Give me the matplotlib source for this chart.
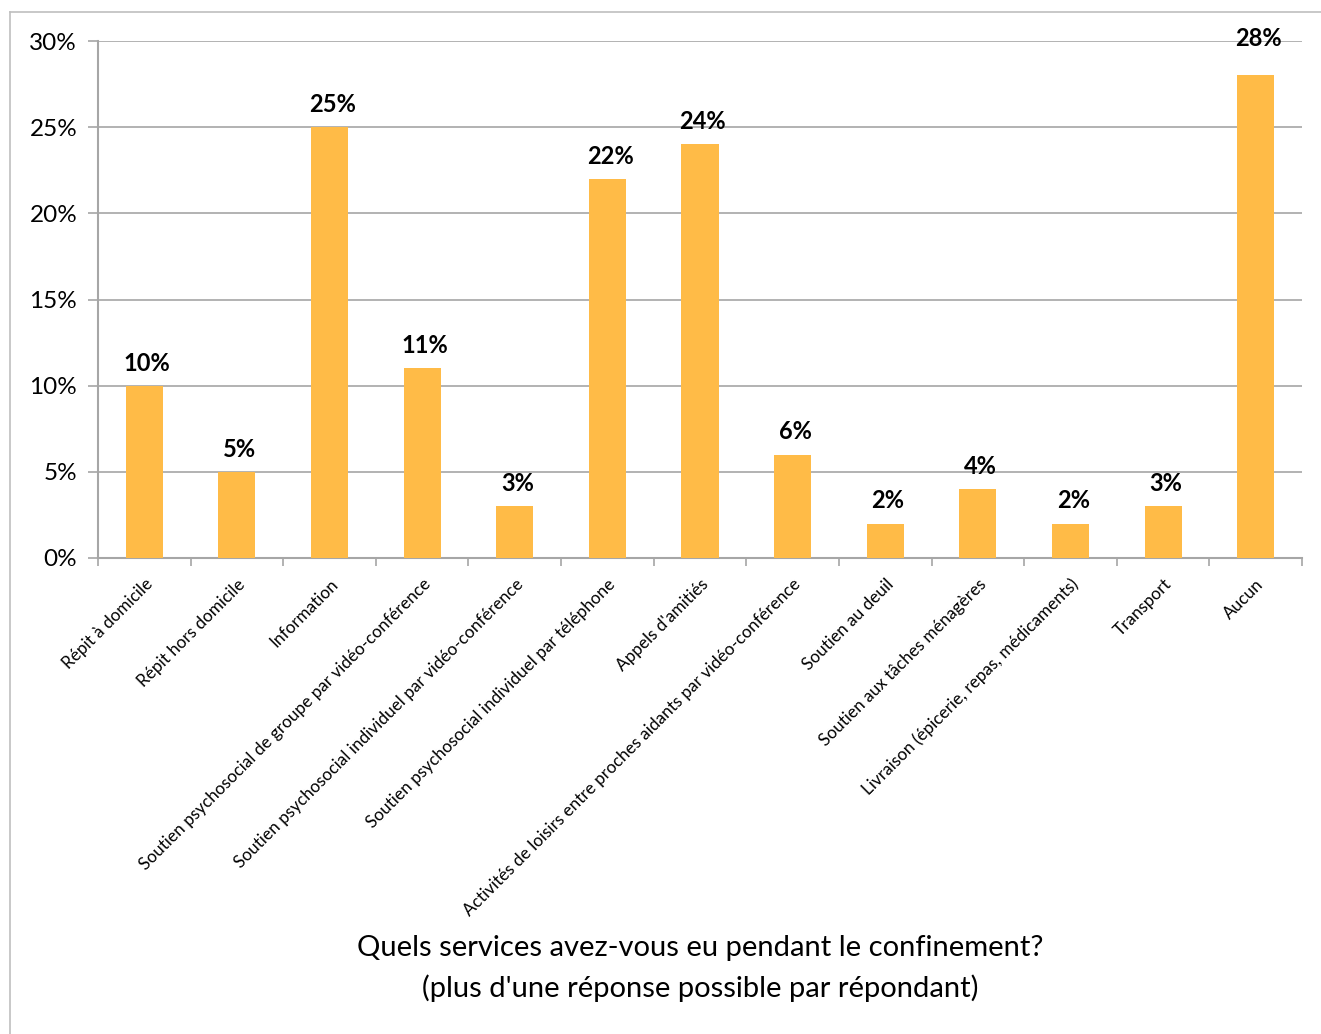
import numpy as np
import matplotlib.pyplot as plt
from matplotlib.lines import Line2D
from matplotlib.ticker import PercentFormatter

plt.rcParams['font.family'] = ['Lato', 'DejaVu Sans']

categories = [
    "Répit à domicile",
    "Répit hors domicile",
    "Information",
    "Soutien psychosocial de groupe par vidéo-conférence",
    "Soutien psychosocial individuel par vidéo-conférence",
    "Soutien psychosocial individuel par téléphone",
    "Appels d'amitiés",
    "Activités de loisirs entre proches aidants par vidéo-conférence",
    "Soutien au deuil",
    "Soutien aux tâches ménagères",
    "Livraison (épicerie, repas, médicaments)",
    "Transport",
    "Aucun",
]
values = [10, 5, 25, 11, 3, 22, 24, 6, 2, 4, 2, 3, 28]
yticks = [0, 5, 10, 15, 20, 25, 30]

W, H = 1321, 1034
fig = plt.figure(figsize=(W / 100, H / 100), dpi=100)
ax = fig.add_axes([98 / W, 1 - 558 / H, (1302 - 98) / W, (558 - 41) / H])

bar_color = '#FFBB47'
grid_color = '#A6A6A6'

x = np.arange(len(categories))
ax.bar(x, values, width=0.4, color=bar_color, zorder=3)

top = max(values)
for xi, v in zip(x, values):
    # the tallest label sits higher, as in the original chart
    off = 18 if v == top else 8
    ax.annotate(f"{v}%", (xi, v), xytext=(2, off), textcoords='offset points',
                ha='center', va='bottom', fontsize=17, fontweight='bold', zorder=4)

ax.set_xlim(-0.5, len(categories) - 0.5)
ax.set_ylim(0, 30)
ax.set_yticks(yticks)
ax.yaxis.set_major_formatter(PercentFormatter(decimals=0))
ax.yaxis.grid(True, color=grid_color, linewidth=1.2, zorder=0)
ax.tick_params(axis='y', length=7, color=grid_color, width=1.2, labelsize=17.5, pad=8)

# category boundary ticks on x
ax.set_xticks(np.arange(-0.5, len(categories), 1.0))
ax.set_xticklabels([])
ax.tick_params(axis='x', length=6, color=grid_color, width=1.2)
ax.set_xticks(x, minor=True)
ax.set_xticklabels(categories, minor=True, rotation=45, ha='right',
                   rotation_mode='anchor', fontsize=12.3)
ax.tick_params(axis='x', which='minor', length=0, pad=13)

for side in ['top', 'right']:
    ax.spines[side].set_visible(False)
for side in ['left', 'bottom']:
    ax.spines[side].set_color(grid_color)
    ax.spines[side].set_linewidth(1.5)

fig.text(700 / W, 1 - 948 / H, "Quels services avez-vous eu pendant le confinement?",
         ha='center', va='center', fontsize=21)
fig.text(700 / W, 1 - 988 / H, "(plus d'une réponse possible par répondant)",
         ha='center', va='center', fontsize=21)

# chart outer border (top and left visible)
fig.add_artist(Line2D([10 / W, 1], [1 - 12 / H, 1 - 12 / H], color='#BFBFBF', linewidth=1.2))
fig.add_artist(Line2D([10 / W, 10 / W], [0, 1 - 12 / H], color='#BFBFBF', linewidth=1.2))

fig.savefig('out.png', dpi=100, facecolor='white')
